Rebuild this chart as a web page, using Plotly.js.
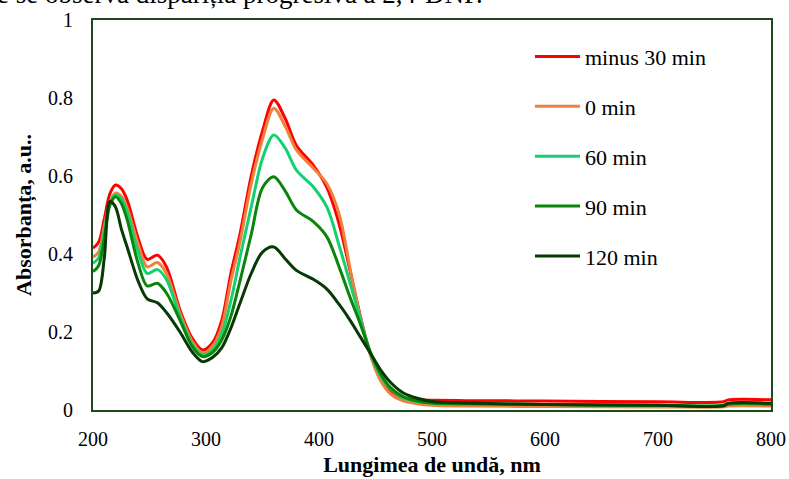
<!DOCTYPE html>
<html>
<head>
<meta charset="utf-8">
<script src="https://cdn.plot.ly/plotly-3.0.1.min.js"></script>
<style>
  html, body { margin: 0; padding: 0; background: #ffffff; }
  #chart { width: 789px; height: 479px; }
</style>
</head>
<body>
<div id="chart"></div>
<script>
// UV-Vis spectra of the solution sampled at successive irradiation times
const wavelength = [200, 205, 210, 215, 220, 225, 230, 240, 248, 257, 265, 277, 288, 297,
  306, 314, 322, 330, 340, 350, 360, 370, 380, 395, 407, 418, 428, 436, 445, 454,
  463, 474, 487, 500, 530, 600, 700, 758, 762, 800];

const absMinus30 = [0.415, 0.43, 0.49, 0.555, 0.577, 0.568, 0.54, 0.44, 0.386, 0.397, 0.367, 0.256, 0.183, 0.154,
  0.173, 0.23, 0.35, 0.45, 0.60, 0.715, 0.795, 0.748, 0.678, 0.627, 0.57, 0.475, 0.35, 0.248, 0.148, 0.085,
  0.051, 0.031, 0.026, 0.025, 0.024, 0.023, 0.021, 0.021, 0.026, 0.026];

const abs0 = [0.392, 0.405, 0.47, 0.535, 0.556, 0.548, 0.52, 0.425, 0.367, 0.378, 0.35, 0.248, 0.175, 0.146,
  0.165, 0.215, 0.33, 0.43, 0.58, 0.695, 0.774, 0.728, 0.667, 0.62, 0.58, 0.50, 0.355, 0.245, 0.145, 0.078,
  0.042, 0.024, 0.016, 0.012, 0.010, 0.009, 0.008, 0.008, 0.010, 0.010];

const abs60 = [0.376, 0.39, 0.46, 0.53, 0.551, 0.542, 0.51, 0.405, 0.35, 0.36, 0.335, 0.239, 0.168, 0.141,
  0.155, 0.195, 0.28, 0.39, 0.52, 0.645, 0.705, 0.672, 0.615, 0.572, 0.52, 0.42, 0.32, 0.24, 0.15, 0.09,
  0.055, 0.032, 0.022, 0.018, 0.016, 0.014, 0.012, 0.012, 0.016, 0.016];

const abs90 = [0.355, 0.37, 0.44, 0.525, 0.547, 0.53, 0.49, 0.375, 0.318, 0.325, 0.30, 0.23, 0.162, 0.137,
  0.148, 0.18, 0.24, 0.33, 0.45, 0.57, 0.598, 0.562, 0.513, 0.483, 0.444, 0.365, 0.285, 0.225, 0.152, 0.095,
  0.058, 0.035, 0.023, 0.018, 0.016, 0.014, 0.012, 0.011, 0.015, 0.015];

const abs120 = [0.30, 0.305, 0.39, 0.535, 0.52, 0.465, 0.42, 0.33, 0.285, 0.275, 0.25, 0.20, 0.148, 0.124,
  0.135, 0.16, 0.21, 0.273, 0.35, 0.405, 0.418, 0.388, 0.358, 0.335, 0.31, 0.27, 0.228, 0.19, 0.148, 0.105,
  0.072, 0.045, 0.03, 0.022, 0.018, 0.014, 0.012, 0.011, 0.017, 0.017];

const seriesNames = ['minus 30 min', '0 min', '60 min', '90 min', '120 min'];
const seriesValues = [absMinus30, abs0, abs60, abs90, abs120];
const seriesColors = ['#ff0000', '#f0803c', '#14d070', '#0a840a', '#053a05'];

const xTicks = [200, 300, 400, 500, 600, 700, 800];
const yTicks = [0, 0.2, 0.4, 0.6, 0.8, 1];

const serif = 'Liberation Serif, Times New Roman, serif';
const frameColor = '#1d4a1d';

const traces = seriesValues.map((vals, i) => ({
  type: 'scatter',
  mode: 'lines',
  x: wavelength,
  y: vals,
  name: seriesNames[i],
  legendgroup: 'g' + i,
  line: { color: seriesColors[i], width: 3, shape: 'spline', smoothing: 0.9 },
  hoverinfo: 'x+y+name'
}));

const layout = {
  width: 789,
  height: 479,
  margin: { l: 93, r: 18, t: 20, b: 69, pad: 0 },
  paper_bgcolor: '#ffffff',
  plot_bgcolor: '#ffffff',
  font: { family: serif, size: 20, color: '#000000' },
  showlegend: true,
  legend: {
    x: 0.6445, xanchor: 'left',
    y: 0.96, yanchor: 'top',
    bgcolor: 'rgba(0,0,0,0)',
    borderwidth: 0,
    itemwidth: 45,
    tracegroupgap: 18.3,
    font: { family: serif, size: 22, color: '#000000' }
  },
  xaxis: {
    range: [200, 800],
    tickmode: 'array',
    tickvals: xTicks,
    ticktext: xTicks.map(String),
    showgrid: false,
    zeroline: false,
    showline: true,
    mirror: true,
    linecolor: frameColor,
    linewidth: 2,
    ticks: 'outside',
    ticklen: 10,
    tickcolor: 'rgba(0,0,0,0)',
    tickfont: { family: serif, size: 20, color: '#000000' },
    title: {
      text: 'Lungimea de undă, nm',
      font: { family: serif, size: 22, color: '#000000', weight: 'bold' },
      standoff: 8
    }
  },
  yaxis: {
    range: [0, 1],
    tickmode: 'array',
    tickvals: yTicks,
    ticktext: ['0', '0.2', '0.4', '0.6', '0.8', '1'],
    showgrid: false,
    zeroline: false,
    showline: true,
    mirror: true,
    linecolor: frameColor,
    linewidth: 2,
    ticks: 'outside',
    ticklen: 14,
    tickcolor: 'rgba(0,0,0,0)',
    tickfont: { family: serif, size: 20, color: '#000000' },
    title: {
      text: 'Absorbanța, a.u..',
      font: { family: serif, size: 22, color: '#000000', weight: 'bold' },
      standoff: 10
    }
  },
  annotations: [{
    text: 'e se observă dispariția progresivă a 2,4-DNP.',
    xref: 'paper', yref: 'paper',
    x: -0.145, y: 1.022, xanchor: 'left', yanchor: 'bottom',
    showarrow: false,
    font: { family: serif, size: 27, color: '#000000' }
  }]
};

Plotly.newPlot('chart', traces, layout, { displayModeBar: false, staticPlot: true });
</script>
</body>
</html>
